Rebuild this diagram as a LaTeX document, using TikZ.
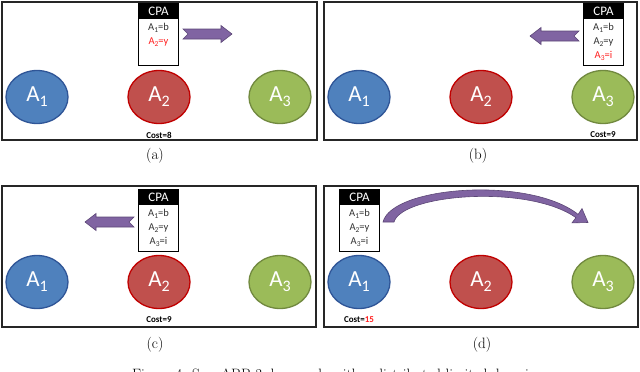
\documentclass[tikz,border=0pt]{standalone}
\usepackage{fontspec}
\newfontfamily\carl{Carlito}
\usetikzlibrary{shapes.geometric}
\definecolor{bluef}{HTML}{4F81BD}
\definecolor{blued}{HTML}{2F5597}
\definecolor{redf}{HTML}{C0504D}
\definecolor{redd}{HTML}{C00000}
\definecolor{greenf}{HTML}{9BBB59}
\definecolor{greend}{HTML}{71893F}
\definecolor{arrf}{HTML}{8064A2}
\definecolor{arrd}{HTML}{5C4776}
\definecolor{cred}{HTML}{FF1F1F}
\newcommand\agsub[1]{A\raisebox{-5pt}{\fontsize{16}{16}\selectfont #1}}
\newcommand\cpsub[2]{A\raisebox{-1.8pt}{\fontsize{7.5}{7.5}\selectfont #1}=#2}
\tikzset{
  agent/.style={ellipse, line width=1.3pt, minimum width=62pt, minimum height=53pt,
    inner sep=0pt, text=white, font=\carl\fontsize{23}{23}\selectfont},
  ag1/.style={agent, draw=blued, fill=bluef},
  ag2/.style={agent, draw=redd, fill=redf},
  ag3/.style={agent, draw=greend, fill=greenf},
  frame/.style={draw=black!85, line width=1.2pt},
  costlbl/.style={font=\carl\bfseries\fontsize{9}{9}\selectfont, inner sep=0pt},
  subcap/.style={font=\fontsize{15}{18}\selectfont, inner sep=0pt},
  cpab/.style={minimum width=39pt, minimum height=61pt, inner sep=0pt, fill=white},
  cpat/.style={font=\carl\fontsize{13}{13}\selectfont, text=white, inner sep=0pt},
  cpal/.style={font=\carl\fontsize{10.5}{10.5}\selectfont, text=black!80, inner sep=0pt},
  blockarr/.pic={\filldraw[fill=arrf, draw=arrd, line width=0.6pt]
    (0,-5) -- (38,-5) -- (38,-8.5) -- (49,0) -- (38,8.5) -- (38,5) -- (0,5) -- (5,0) -- cycle;}
}
% name, x centre, top y, line1, line2, line3
\newcommand\cpabox[6]{%
  \node[cpab] (#1) at (#2,#3+30.5) {};
  \fill[black] (#1.north west) rectangle ([yshift=-15pt]#1.north east);
  \draw[black, line width=1pt] (#1.north west) rectangle (#1.south east);
  \node[cpat] (#1-h) at ([yshift=-7.5pt]#1.north) {CPA};
  \node[cpal] (#1-l1) at ([yshift=-24pt]#1.north) {#4};
  \node[cpal] (#1-l2) at ([yshift=-38pt]#1.north) {#5};
  \node[cpal] (#1-l3) at ([yshift=-52pt]#1.north) {#6};
}
\begin{document}
\begin{tikzpicture}[x=1pt,y=-1pt]
\useasboundingbox (0,0) rectangle (640,372);
% frames
\draw[frame] (2,2) rectangle (317,140);
\draw[frame] (324,2) rectangle (637,140);
\draw[frame] (2,186) rectangle (316,327);
\draw[frame] (324,186) rectangle (638,327);
% (a)
\node[ag1] (a1) at (37,97) {\agsub{1}};
\node[ag2] (a2) at (159,97) {\agsub{2}};
\node[ag3] (a3) at (280,97) {\agsub{3}};
\cpabox{acpa}{158.5}{4}{\cpsub{1}{b}}{\textcolor{cred}{\cpsub{2}{y}}}{}
\pic at (183,34) {blockarr};
\node[costlbl] (acost) at (159,135) {Cost=8};
\node[subcap] (acap) at (155,156) {(a)};
% (b)
\node[ag1] (b1) at (359,97) {\agsub{1}};
\node[ag2] (b2) at (481,97) {\agsub{2}};
\node[ag3] (b3) at (603,97) {\agsub{3}};
\cpabox{bcpa}{603.5}{4}{\cpsub{1}{b}}{\cpsub{2}{y}}{\textcolor{cred}{\cpsub{3}{i}}}
\pic[xscale=-1] at (579,36) {blockarr};
\node[costlbl] (bcost) at (603,135) {Cost=9};
\node[subcap] (bcap) at (478,156) {(b)};
% (c)
\node[ag1] (c1) at (37,282) {\agsub{1}};
\node[ag2] (c2) at (159,282) {\agsub{2}};
\node[ag3] (c3) at (280,282) {\agsub{3}};
\cpabox{ccpa}{158.5}{190}{\cpsub{1}{b}}{\cpsub{2}{y}}{\cpsub{3}{i}}
\pic[xscale=-1] at (134,222) {blockarr};
\node[costlbl] (ccost) at (159,320) {Cost=9};
\node[subcap] (ccap) at (155,345) {(c)};
% (d)
\node[ag1] (d1) at (359,282) {\agsub{1}};
\node[ag2] (d2) at (481,282) {\agsub{2}};
\node[ag3] (d3) at (603,282) {\agsub{3}};
\cpabox{dcpa}{359.5}{190}{\cpsub{1}{b}}{\cpsub{2}{y}}{\cpsub{3}{i}}
\coordinate (ds1) at (383,222);
\coordinate (ds2) at (394,222);
\coordinate (dh1) at (578.1,214.4);
\coordinate (dh2) at (575.9,217.6);
\coordinate (dhb1) at (582,208.6);
\coordinate (dhb2) at (572,222.9);
\coordinate (dtip) at (588,222.5);
\filldraw[fill=arrf, draw=arrd, line width=0.6pt]
  (ds1) .. controls (392,186) and (530,176) .. (dh1) -- (dhb1) -- (dtip) -- (dhb2) -- (dh2)
  .. controls (528,184) and (402,194) .. (ds2) -- cycle;
\node[costlbl] (dcost) at (359,320) {Cost=\textcolor{cred}{15}};
\node[subcap] (dcap) at (482,345) {(d)};
% figure caption (cut off at the lower edge, as in the reference)
\node[subcap, anchor=base west] (figcap) at (132,379) {Figure 4: SyncABB 3-d example with a distributed limited domain};
\end{tikzpicture}
\end{document}
